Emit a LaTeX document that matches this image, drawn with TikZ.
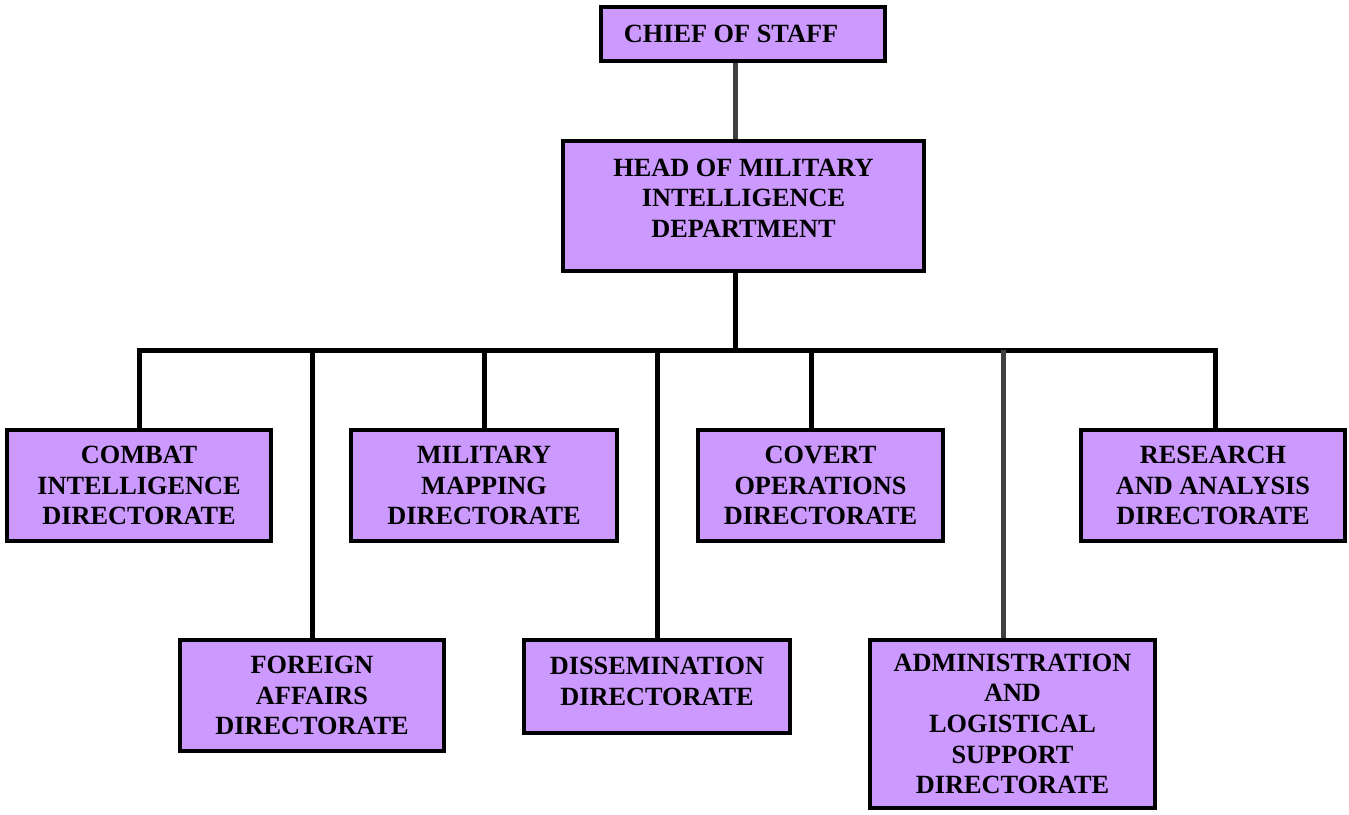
\documentclass[tikz,border=0pt]{standalone}
\usepackage{fontspec}
\setmainfont{Liberation Serif}
\definecolor{boxfill}{HTML}{CC99FF}
\definecolor{darkline}{HTML}{404040}
\begin{document}
\begin{tikzpicture}[x=1pt,y=-1pt,
  orgbox/.style={draw=black, fill=boxfill, line width=4pt, anchor=north west, align=center,
    inner sep=0pt, font=\fontsize{26.3}{30.6}\selectfont\bfseries},
  conn/.style={line width=5pt, black, line cap=rect, line join=miter},
  gconn/.style={line width=5pt, darkline}]
\useasboundingbox (0,0) rectangle (1349,814);
\fill[white] (0,0) rectangle (1349,814);
% boxes (positions = outer edge)
\node[orgbox, minimum width=284pt, minimum height=54pt] (chief) at (599,5) {CHIEF OF STAFF\hspace{24pt}};
\node[orgbox, minimum width=361pt, minimum height=130pt, text depth=16pt] (head) at (561,139)
  {HEAD OF MILITARY\\INTELLIGENCE\\DEPARTMENT};
\node[orgbox, minimum width=264pt, minimum height=111pt] (combat) at (5,428)
  {COMBAT\\INTELLIGENCE\\DIRECTORATE};
\node[orgbox, minimum width=264pt, minimum height=111pt] (foreign) at (178,638)
  {FOREIGN\\AFFAIRS\\DIRECTORATE};
\node[orgbox, minimum width=266pt, minimum height=111pt] (mapping) at (349,428)
  {MILITARY\\MAPPING\\DIRECTORATE};
\node[orgbox, minimum width=266pt, minimum height=93pt, text depth=10pt] (dissem) at (522,638)
  {DISSEMINATION\\DIRECTORATE};
\node[orgbox, minimum width=245pt, minimum height=111pt] (covert) at (696,428)
  {COVERT\\OPERATIONS\\DIRECTORATE};
\node[orgbox, minimum width=285pt, minimum height=168pt] (admin) at (868,638)
  {ADMINISTRATION\\AND\\LOGISTICAL\\SUPPORT\\DIRECTORATE};
\node[orgbox, minimum width=264pt, minimum height=111pt] (research) at (1079,428)
  {RESEARCH\\AND ANALYSIS\\DIRECTORATE};
% bus
\coordinate (bus) at (735,350);
% connectors
\draw[gconn] ([xshift=-8pt]chief.south) -- ([xshift=-8pt]chief.south |- head.north);
\draw[conn] (bus |- head.south) -- (bus);
\draw[conn] (combat.north) |- (bus) -| ([xshift=2pt]research.north);
\draw[conn] (foreign.north) -- (foreign.north |- bus);
\draw[conn] (mapping.north) -- (mapping.north |- bus);
\draw[conn] (dissem.north) -- (dissem.north |- bus);
\draw[conn] ([xshift=-9.5pt]covert.north) -- ([xshift=-9.5pt]covert.north |- bus);
\draw[gconn] ([xshift=-9.5pt]admin.north) -- ([xshift=-9.5pt]admin.north |- bus);
\end{tikzpicture}
\end{document}
